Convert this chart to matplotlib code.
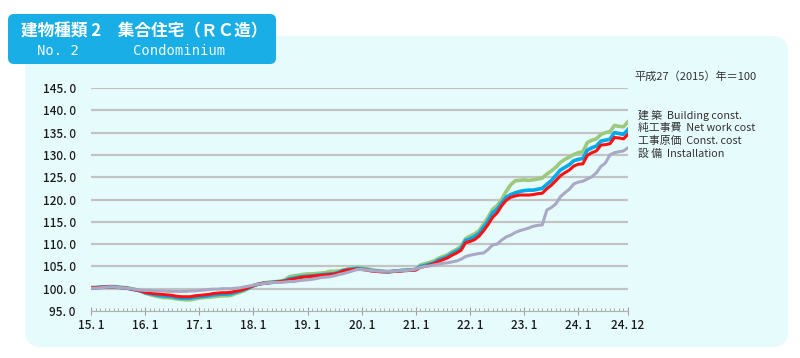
import matplotlib
matplotlib.use("Agg")
import matplotlib.pyplot as plt
from matplotlib.patches import FancyBboxPatch
from matplotlib.transforms import Affine2D, ScaledTranslation
import numpy as np

plt.rcParams['font.family'] = ['Noto Sans CJK JP', 'DejaVu Sans']

# ---- data (monthly, 2015.1 - 2024.12) ----
building = [
    100.3, 100.3, 100.4, 100.4, 100.5, 100.5, 100.4, 100.3, 100.2, 100.0, 99.8, 99.5,
    99.0, 98.7, 98.4, 98.2, 98.0, 98.0, 97.9, 97.7, 97.6, 97.5, 97.5, 97.7,
    97.9, 98.0, 98.1, 98.2, 98.3, 98.4, 98.4, 98.5, 98.9, 99.2, 99.6, 100.1,
    100.6, 101.0, 101.2, 101.4, 101.5, 101.6, 101.7, 102.0, 102.7, 102.9, 103.0, 103.2,
    103.3, 103.3, 103.4, 103.5, 103.6, 103.9, 103.9, 104.0, 104.2, 104.4, 104.6, 104.8,
    104.7, 104.5, 104.3, 104.1, 104.0, 103.9, 103.8, 103.9, 104.0, 104.1, 104.2, 104.2,
    104.4, 105.3, 105.6, 105.9, 106.2, 106.8, 107.2, 107.6, 108.3, 108.8, 109.5, 111.2,
    111.8, 112.3, 113.0, 114.5, 116.0, 117.8, 118.6, 120.0, 121.8, 123.3, 124.2, 124.3,
    124.4, 124.3, 124.4, 124.6, 124.8, 125.7, 126.4, 127.2, 128.3, 129.0, 129.5, 130.1,
    130.5, 130.7, 132.8, 133.3, 133.6, 134.6, 135.0, 135.2, 136.6, 136.4, 136.3, 137.4,
]
net_work = [
    100.2, 100.2, 100.3, 100.4, 100.4, 100.4, 100.3, 100.2, 100.1, 99.9, 99.7, 99.5,
    99.1, 98.9, 98.7, 98.5, 98.4, 98.3, 98.2, 98.0, 97.9, 97.9, 97.9, 98.1,
    98.2, 98.3, 98.4, 98.6, 98.7, 98.8, 98.8, 98.9, 99.2, 99.5, 99.8, 100.2,
    100.7, 101.0, 101.2, 101.3, 101.4, 101.5, 101.6, 101.8, 102.2, 102.4, 102.6, 102.7,
    102.8, 102.9, 103.0, 103.1, 103.2, 103.3, 103.4, 103.7, 104.1, 104.3, 104.4, 104.5,
    104.4, 104.3, 104.1, 104.0, 103.9, 103.8, 103.8, 103.9, 104.0, 104.1, 104.1, 104.2,
    104.3, 105.0, 105.2, 105.5, 105.8, 106.4, 106.8, 107.2, 107.9, 108.4, 109.0, 110.8,
    111.2, 111.7, 112.4, 113.8, 115.2, 117.0, 117.8, 119.2, 120.5, 121.1, 121.5, 121.8,
    122.0, 122.1, 122.1, 122.3, 122.5, 123.4, 124.2, 125.4, 126.6, 127.2, 127.8, 128.7,
    129.0, 129.2, 131.1, 131.6, 132.0, 133.1, 133.3, 133.5, 135.0, 134.8, 134.6, 135.7,
]
const_cost = [
    100.2, 100.2, 100.3, 100.4, 100.4, 100.4, 100.3, 100.2, 100.1, 99.9, 99.7, 99.5,
    99.2, 99.0, 98.9, 98.8, 98.7, 98.6, 98.5, 98.3, 98.2, 98.2, 98.2, 98.4,
    98.5, 98.6, 98.7, 98.9, 99.0, 99.1, 99.1, 99.2, 99.4, 99.6, 99.9, 100.3,
    100.7, 101.0, 101.2, 101.3, 101.4, 101.5, 101.6, 101.7, 102.0, 102.2, 102.4, 102.6,
    102.7, 102.8, 102.9, 103.0, 103.1, 103.2, 103.3, 103.6, 104.0, 104.2, 104.3, 104.4,
    104.3, 104.2, 104.0, 103.9, 103.8, 103.8, 103.8, 103.9, 103.9, 104.0, 104.1, 104.1,
    104.2, 104.8, 105.0, 105.3, 105.6, 106.1, 106.5, 106.9, 107.5, 108.0, 108.6, 110.3,
    110.6, 111.0, 111.8, 113.0, 114.4, 116.0, 117.0, 118.6, 119.8, 120.5, 120.8, 121.0,
    121.0, 121.0, 121.1, 121.3, 121.4, 122.4, 123.2, 124.2, 125.3, 126.0, 126.6, 127.5,
    127.9, 128.0, 129.9, 130.5, 130.9, 132.2, 132.3, 132.5, 133.9, 133.8, 133.6, 134.6,
]
installation = [
    100.1, 100.1, 100.2, 100.3, 100.4, 100.4, 100.3, 100.2, 100.1, 100.0, 99.8, 99.7,
    99.6, 99.6, 99.5, 99.5, 99.5, 99.4, 99.4, 99.4, 99.4, 99.4, 99.5, 99.5,
    99.6, 99.7, 99.8, 99.9, 99.9, 100.0, 100.0, 100.0, 100.1, 100.2, 100.4, 100.6,
    100.8, 101.0, 101.1, 101.3, 101.4, 101.4, 101.4, 101.5, 101.6, 101.6, 101.8, 101.9,
    102.0, 102.1, 102.3, 102.5, 102.6, 102.7, 102.9, 103.2, 103.4, 103.7, 104.0, 104.3,
    104.3, 104.2, 104.1, 104.0, 103.9, 103.9, 103.9, 103.9, 104.0, 104.1, 104.1, 104.2,
    104.4, 104.8, 105.0, 105.1, 105.3, 105.5, 105.7, 105.8, 106.0, 106.2, 106.6, 107.2,
    107.5, 107.7, 107.9, 108.0, 108.8, 109.8, 110.0, 110.9, 111.6, 112.0, 112.6, 113.0,
    113.3, 113.6, 114.0, 114.2, 114.3, 117.6, 118.2, 119.0, 120.6, 121.5, 122.3, 123.5,
    123.9, 124.1, 124.6, 125.1, 126.0, 127.4, 128.2, 130.0, 130.5, 130.7, 130.9, 131.6,
]
x_tick_pos = [0, 12, 24, 36, 48, 60, 72, 84, 96, 108, 119]
x_tick_labels = ["15. 1", "16. 1", "17. 1", "18. 1", "19. 1", "20. 1",
                 "21. 1", "22. 1", "23. 1", "24. 1", "24. 12"]
y_ticks = [95, 100, 105, 110, 115, 120, 125, 130, 135, 140, 145]
legend_labels = ["建 築  Building const.", "純工事費  Net work cost",
                 "工事原価  Const. cost", "設 備  Installation"]

W, H = 800, 358
fig = plt.figure(figsize=(W / 100, H / 100), dpi=100)
fig.patch.set_facecolor("white")
T = Affine2D().scale(1 / 100.0) + fig.dpi_scale_trans


def box(x0, y0, x1, y1, r, fc):
    p = FancyBboxPatch((x0, H - y1), x1 - x0, y1 - y0,
                       boxstyle=f"round,pad=0,rounding_size={r}",
                       transform=T, fc=fc, ec="none", zorder=0)
    fig.add_artist(p)


# panel background and title box
box(25, 36, 788, 347, 16, "#e6fbfc")
box(8, 14, 276, 64, 6, "#1aaee6")

fig.text(21 / W, 1 - 31 / H, "建物種類 2　集合住宅（ＲＣ造）", color="white",
         fontsize=12, fontweight="bold", va="center", ha="left")
fig.text(37 / W, 1 - 51 / H, "No. 2", color="#eefaff", fontsize=10,
         va="center", ha="left", family=["DejaVu Sans Mono", "DejaVu Sans"])
fig.text(133 / W, 1 - 51 / H, "Condominium", color="#eefaff", fontsize=10,
         va="center", ha="left", family=["DejaVu Sans Mono", "DejaVu Sans"])

ax = fig.add_axes([91 / W, 1 - 311 / H, (628 - 91) / W, (311 - 88) / H])
ax.set_facecolor("none")
x = np.arange(len(building))

ax.plot(x, building, color="#9cc97c", lw=2.6, zorder=3, solid_joinstyle="round")
ax.plot(x, net_work, color="#00aaeb", lw=2.6, zorder=4, solid_joinstyle="round")
ax.plot(x, const_cost, color="#ff1010", lw=2.2, zorder=5, solid_joinstyle="round")
ax.plot(x, installation, color="#a9a9c6", lw=2.2, zorder=6, solid_joinstyle="round")

ax.set_xlim(0, 119)
ax.set_ylim(95, 145)
for v in y_ticks[1:]:
    ax.axhline(v, color="#c3c3c3", lw=1.6, zorder=1)

for s in ["top", "right", "left"]:
    ax.spines[s].set_visible(False)
ax.spines["bottom"].set_color("#b0b0b0")
ax.spines["bottom"].set_linewidth(0.8)

ax.set_yticks(y_ticks)
ax.set_yticklabels([f"{v:.1f}".replace(".", ". ") for v in y_ticks],
                   fontsize=8.5, color="#1a1a1a", fontweight="medium")
ax.tick_params(axis="y", length=0, pad=11)
ax.set_xticks(x_tick_pos)
ax.set_xticklabels(x_tick_labels, fontsize=8.5, color="#1a1a1a",
                   fontweight="medium")
last = ax.get_xticklabels()[-1]
last.set_transform(last.get_transform() +
                   ScaledTranslation(-8 / 100, 0, fig.dpi_scale_trans))
ax.set_xticks(np.arange(0, 120), minor=True)
ax.tick_params(axis="x", which="major", direction="inout", length=6,
               color="#a0a0a0", width=0.8, pad=3)
ax.tick_params(axis="x", which="minor", direction="in", length=2.5,
               color="#a0a0a0", width=0.6)

fig.text(757 / W, 1 - 77 / H, "平成27（2015）年＝100", fontsize=8,
         color="#333333", ha="right", va="center")
for i, lab in enumerate(legend_labels):
    fig.text(638 / W, 1 - (115 + 13 * i) / H, lab, fontsize=7.8,
             color="#333333", ha="left", va="center")

fig.savefig("out.png", dpi=100)
